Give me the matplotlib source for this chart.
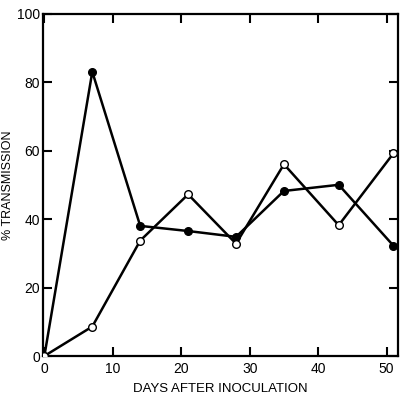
import matplotlib
matplotlib.use('Agg')
import matplotlib.pyplot as plt

# Days after inoculation and % transmission for the two series
days = [0, 7, 14, 21, 28, 35, 43, 51]
filled_vals = [0, 83, 38, 36.5, 34.8, 48.2, 50, 32.2]
open_vals = [0, 8.6, 33.7, 47.2, 32.8, 56, 38.2, 59.2]

x_ticks = [0, 10, 20, 30, 40, 50]
y_ticks = [0, 20, 40, 60, 80, 100]

plt.rcParams['font.family'] = ['Liberation Sans', 'DejaVu Sans']

fig = plt.figure(figsize=(4.02, 4.0), dpi=100)
ax = fig.add_axes([0.107, 0.11, 0.882, 0.856])

ax.plot(days, filled_vals, color='black', lw=1.8, marker='o', ms=5.5,
        mfc='black', mec='black', zorder=3)
ax.plot(days, open_vals, color='black', lw=1.8, marker='o', ms=5.5,
        mfc='white', mec='black', mew=1.0, zorder=3)

ax.set_xlim(-0.2, 51.6)
ax.set_ylim(0, 100)
ax.set_xticks(x_ticks)
ax.set_yticks(y_ticks)
ax.tick_params(direction='in', length=6.5, width=1.5, labelsize=10,
               top=True, right=True, pad=2)
ax.tick_params(axis='x', pad=4)
for s in ax.spines.values():
    s.set_linewidth(1.6)

ax.set_xlabel('DAYS AFTER INOCULATION', fontsize=9.5, labelpad=5)
ax.set_ylabel('% TRANSMISSION', fontsize=9)
ax.yaxis.set_label_coords(-0.082, 0.5)

fig.savefig('out.png', dpi=100)
